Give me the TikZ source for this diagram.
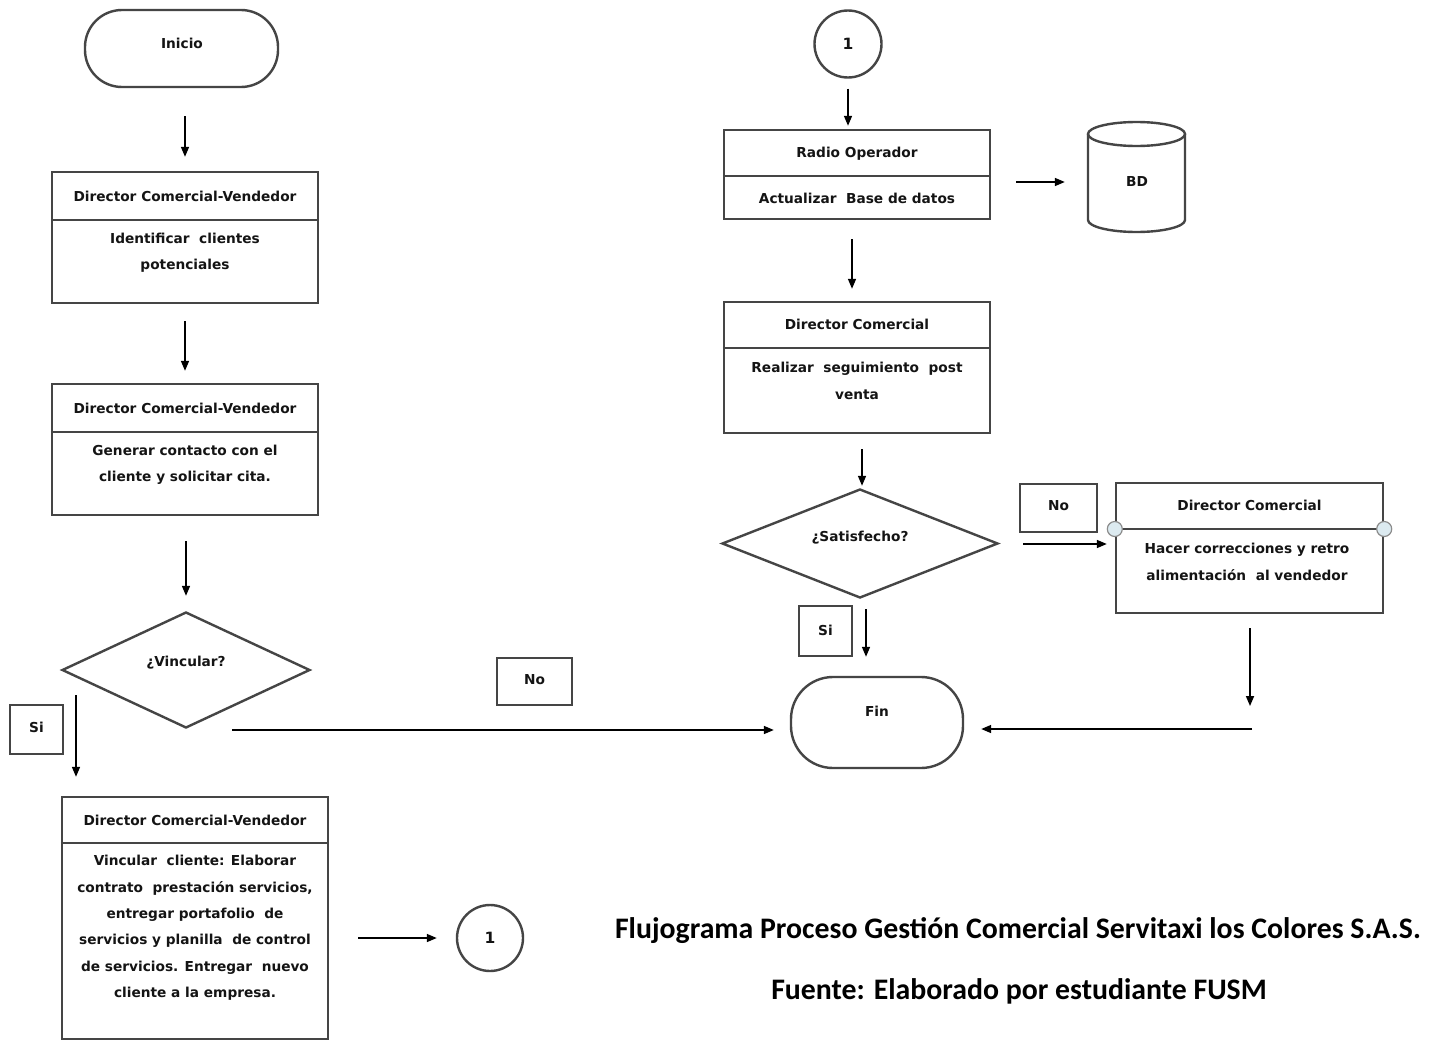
\documentclass[tikz,border=0pt]{standalone}
\usepackage{fontspec}
\setmainfont{Carlito}
\newfontfamily\boxfont{DejaVu Sans}
\usetikzlibrary{shapes.geometric,arrows.meta}

\definecolor{edge}{gray}{0.27}
\definecolor{knobfill}{RGB}{220,234,240}

\tikzset{
  shapeline/.style={draw=edge, line width=2.4pt},
  procbox/.style={shapeline, rectangle, inner sep=0pt},
  term/.style={shapeline, rectangle, inner sep=0pt},
  decision/.style={shapeline, diamond, inner sep=0pt},
  connector/.style={shapeline, circle, inner sep=0pt, minimum size=66pt},
  tagbox/.style={shapeline, rectangle, inner sep=0pt, line width=2.2pt},
  lbl/.style={font=\boxfont\bfseries\fontsize{13.7}{26.4}\selectfont, align=center, text=black!92, inner sep=0pt},
  biglbl/.style={lbl, font=\boxfont\bfseries\fontsize{15.5}{18}\selectfont},
  divider/.style={draw=edge, line width=2.4pt},
  arr/.style={-{Triangle[length=10pt,width=8pt]}, line width=1.6pt, draw=black},
  knob/.style={circle, draw=black!45, fill=knobfill, minimum size=15pt, inner sep=0pt, line width=1.2pt},
  titletxt/.style={font=\bfseries\fontsize{29.8}{34}\selectfont, inner sep=0pt},
}

\begin{document}
\begin{tikzpicture}[x=1pt,y=-1pt]
\useasboundingbox[fill=white] (0,0) rectangle (1440,1041);

% ---------- left column ----------
\node[term, rounded corners=37pt, minimum width=193, minimum height=77] (ini) at (181.5,48.5) {};
\node[lbl] (iniT) at (182,43) {Inicio};

\node[procbox, minimum width=266, minimum height=131] (b1) at (185,237.5) {};
\draw[divider] (b1.west |- 0,220) -- (b1.east |- 0,220);
\node[lbl] (b1h) at (185,196) {Director Comercial-Vendedor};
\node[lbl] (b1t) at (185,253) {Identificar\ \ clientes\\potenciales};

\node[procbox, minimum width=266, minimum height=131] (b2) at (185,449.5) {};
\draw[divider] (b2.west |- 0,432) -- (b2.east |- 0,432);
\node[lbl] (b2h) at (185,408) {Director Comercial-Vendedor};
\node[lbl] (b2t) at (185,465) {Generar contacto con el\\cliente y solicitar cita.};

\node[decision, minimum width=248, minimum height=116] (dia1) at (186,670) {};
\node[lbl] (dia1T) at (186,663) {¿Vincular?};

\node[tagbox, minimum width=53, minimum height=49] (si1) at (36.5,729.5) {};
\node[lbl] (si1T) at (36.5,727) {Si};
\node[tagbox, minimum width=75, minimum height=47] (no1) at (534.5,681.5) {};
\node[lbl] (no1T) at (534.5,680) {No};

\node[procbox, minimum width=266, minimum height=242] (b3) at (195,918) {};
\draw[divider] (b3.west |- 0,843) -- (b3.east |- 0,843);
\node[lbl] (b3h) at (195,820) {Director Comercial-Vendedor};
\node[lbl] (b3t) at (195,928) {Vincular\ \ cliente: Elaborar\\contrato\ \ prestación servicios,\\entregar portafolio\ \ de\\servicios y planilla\ \ de control\\de servicios. Entregar\ \ nuevo\\cliente a la empresa.};

\node[connector] (c1) at (490,938) {};
\node[biglbl] (c1T) at (490,938) {1};

% ---------- right column ----------
\node[connector, minimum size=67pt] (c2) at (848,44) {};
\node[biglbl] (c2T) at (848,44) {1};

\node[procbox, minimum width=266, minimum height=89] (radio) at (857,174.5) {};
\draw[divider] (radio.west |- 0,176) -- (radio.east |- 0,176);
\node[lbl] (radioh) at (857,154) {Radio Operador};
\node[lbl] (radiot) at (857,198) {Actualizar\ \ Base de datos};

% database cylinder
\node[minimum width=97, minimum height=110, inner sep=0pt] (bd) at (1136.5,177) {};
\draw[shapeline] (1088,134) -- (1088,220)
  arc[start angle=180, end angle=0, x radius=48.5, y radius=12] -- (1185,134);
\draw[shapeline] (1136.5,134) ellipse [x radius=48.5, y radius=12];
\node[lbl] (bdT) at (1137,182) {BD};

\node[procbox, minimum width=266, minimum height=131] (dc) at (857,367.5) {};
\draw[divider] (dc.west |- 0,348) -- (dc.east |- 0,348);
\node[lbl] (dch) at (857,324) {Director Comercial};
\node[lbl] (dct) at (857,381) {Realizar\ \ seguimiento\ \ post\\venta};

\node[decision, minimum width=276, minimum height=109] (dia2) at (860,543.5) {};
\node[lbl] (dia2T) at (860,538) {¿Satisfecho?};

\node[tagbox, minimum width=77, minimum height=48] (no2) at (1058.5,508) {};
\node[lbl] (no2T) at (1058.5,506) {No};

\node[procbox, minimum width=267, minimum height=130] (rdc) at (1249.5,548) {};
\draw[divider] (rdc.west |- 0,529) -- (rdc.east |- 0,529);
\node[lbl] (rdch) at (1249.5,505) {Director Comercial};
\node[lbl] (rdct) at (1247,562) {Hacer correcciones y retro\\alimentación\ \ al vendedor};
\node[knob] (knobL) at (rdc.west |- 0,529) {};
\node[knob] (knobR) at (rdc.east |- 0,529) {};

\node[tagbox, minimum width=53, minimum height=50] (si2) at (825.5,631) {};
\node[lbl] (si2T) at (825.5,630) {Si};

\node[term, rounded corners=42pt, minimum width=172, minimum height=91] (fin) at (877,722.5) {};
\node[lbl] (finT) at (877,711) {Fin};

% ---------- connectors ----------
\draw[arr, shorten <=28pt, shorten >=14pt] (b1.north |- ini.south) -- (b1.north);
\draw[arr, shorten <=17pt, shorten >=12pt] (b1.south) -- (b2.north);
\draw[arr, shorten <=25pt, shorten >=15pt] (b2.south -| dia1.north) -- (dia1.north);

\coordinate (siStart) at (76,695);
\draw[arr, shorten >=19pt] (siStart) -- (siStart |- b3.north);

\coordinate (noStart) at (232,730);
\draw[arr, shorten >=16pt] (noStart) -- (noStart -| fin.west);

\draw[arr, shorten <=29pt, shorten >=19pt] (b3.east |- c1.center) -- (c1.west);

\draw[arr, shorten <=10pt, shorten >=3pt] (c2.south) -- (c2.south |- radio.north);
\draw[arr, shorten <=25pt, shorten >=23pt] (radio.east |- 0,182) -- (bd.west |- 0,182);
\draw[arr, shorten <=19pt, shorten >=12pt] (radio.south -| 852,0) -- (dc.north -| 852,0);
\draw[arr, shorten <=15pt, shorten >=2pt] (dc.south -| 862,0) -- (dia2.north -| 862,0);
\draw[arr, shorten <=24pt, shorten >=8pt] (dia2.east |- 0,544) -- (rdc.west |- 0,544);
\draw[arr, shorten <=10pt, shorten >=19pt] (dia2.south -| 866,0) -- (fin.north -| 866,0);

\coordinate (backDown) at (1250,706);
\draw[arr, shorten <=14pt] (rdc.south -| backDown) -- (backDown);
\coordinate (backLeft) at (1252,729);
\draw[arr, shorten >=17pt] (backLeft) -- (backLeft -| fin.east);

% ---------- caption ----------
\node[titletxt] (title) at (1018,931) {Flujograma Proceso Gestión Comercial Servitaxi los Colores S.A.S.};
\node[titletxt] (source) at (1019,991) {Fuente: Elaborado por estudiante FUSM};
\end{tikzpicture}
\end{document}
